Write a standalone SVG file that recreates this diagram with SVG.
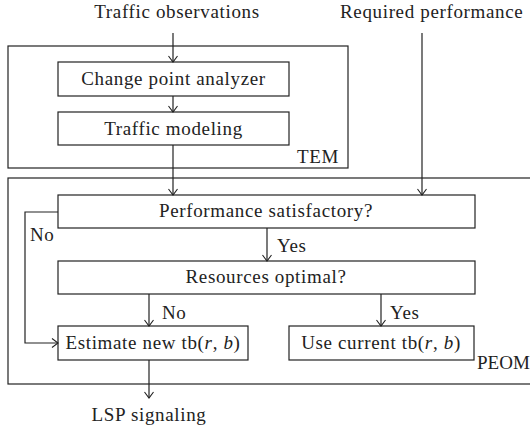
<svg xmlns="http://www.w3.org/2000/svg" width="530" height="435" viewBox="0 0 530 435" font-family="'Liberation Serif', 'DejaVu Serif', 'Times New Roman', serif">
<defs>
<marker id="arr" markerWidth="12" markerHeight="12" refX="10" refY="6" orient="auto" markerUnits="userSpaceOnUse">
<path d="M4,1.5 L10,6 L4,10.5" fill="none" stroke="#222" stroke-width="1.1"/>
</marker>
<style>
text{font-size:19px;letter-spacing:0.65px;fill:#222}
.box{fill:none;stroke:#222;stroke-width:1.2}
.c{text-anchor:middle}
.ln{fill:none;stroke:#222;stroke-width:1.2}
.a{marker-end:url(#arr)}
.i{font-style:italic}
</style>
</defs>
<rect width="530" height="435" fill="#fff"/>
<g id="inputs">
<text class="c" x="177" y="18">Traffic observations</text>
<text x="340" y="18">Required performance</text>
</g>
<g id="TEM">
<rect class="box" x="8" y="46" width="340" height="122"/>
<text x="297" y="163">TEM</text>
</g>
<g id="PEOM">
<rect class="box" x="8" y="178" width="540" height="206"/>
<text x="477" y="369" style="letter-spacing:0">PEOM</text>
</g>
<g id="change-point">
<rect class="box" x="58" y="62" width="231" height="34"/>
<text class="c" x="173.5" y="85">Change point analyzer</text>
</g>
<g id="traffic-modeling">
<rect class="box" x="58" y="112" width="231" height="33"/>
<text class="c" x="173.5" y="135">Traffic modeling</text>
</g>
<g id="perf-satisfactory">
<rect class="box" x="58" y="195" width="417" height="33"/>
<text class="c" x="266" y="217">Performance satisfactory?</text>
</g>
<g id="resources-optimal">
<rect class="box" x="58" y="261" width="417" height="33"/>
<text class="c" x="266" y="283">Resources optimal?</text>
</g>
<g id="estimate">
<rect class="box" x="58" y="326" width="190" height="34"/>
<text class="c" x="153" y="349">Estimate new tb(<tspan class="i">r</tspan>, <tspan class="i">b</tspan>)</text>
</g>
<g id="use-current">
<rect class="box" x="289" y="326" width="185" height="34"/>
<text class="c" x="381" y="349">Use current tb(<tspan class="i">r</tspan>, <tspan class="i">b</tspan>)</text>
</g>
<g id="output">
<text class="c" x="149" y="421">LSP signaling</text>
</g>
<g id="connectors">
<path class="ln a" d="M173,33 V62"/>
<path class="ln a" d="M173,96 V112"/>
<path class="ln a" d="M173,145 V195"/>
<path class="ln a" d="M422,33 V195"/>
<path class="ln a" d="M267,228 V261"/>
<path class="ln a" d="M149,294 V326"/>
<path class="ln a" d="M381,294 V326"/>
<path class="ln a" d="M58,212 H25 V343 H58"/>
<path class="ln a" d="M149,360 V398"/>
<text x="277" y="252">Yes</text>
<text x="162" y="319">No</text>
<text x="390" y="319">Yes</text>
<text x="30" y="241">No</text>
</g>
</svg>
